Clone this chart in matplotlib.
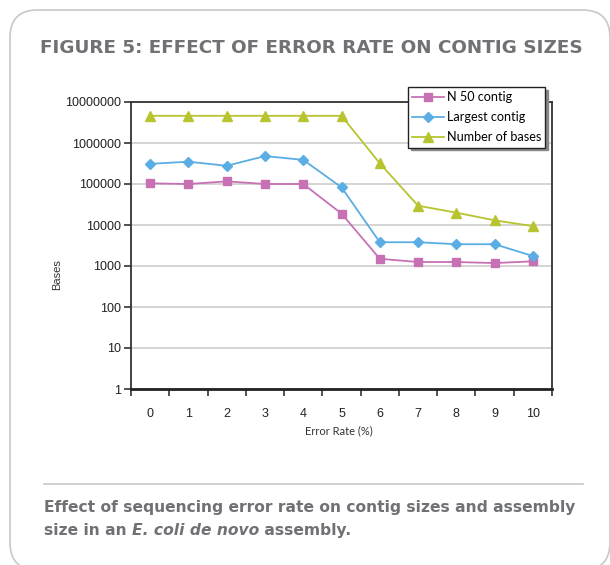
import matplotlib
matplotlib.use("Agg")
import matplotlib.pyplot as plt
from matplotlib.patches import FancyBboxPatch
from matplotlib.lines import Line2D

# data
error_rate = [0, 1, 2, 3, 4, 5, 6, 7, 8, 9, 10]
n50_contig = [104000, 100000, 116000, 100000, 100000, 19000, 1500, 1250, 1250, 1180, 1300]
largest_contig = [310000, 350000, 278000, 480000, 388000, 83000, 3800, 3800, 3400, 3400, 1750]
number_of_bases = [4600000, 4600000, 4600000, 4600000, 4600000, 4600000, 320000, 29500, 20000, 13000, 9400]
series_names = ["N 50 contig", "Largest contig", "Number of bases"]
y_ticks = [1, 10, 100, 1000, 10000, 100000, 1000000, 10000000]

TITLE = "FIGURE 5: EFFECT OF ERROR RATE ON CONTIG SIZES"
CAPTION_1 = "Effect of sequencing error rate on contig sizes and assembly"
CAPTION_2 = ["size in an ", "E. coli de novo", " assembly."]
PINK = "#c771b4"
BLUE = "#5aaee3"
GREEN = "#b8c42f"
TEXT_GRAY = "#707174"

W, H = 610, 565
fig = plt.figure(figsize=(W / 100, H / 100), dpi=100)


def px(x, y):
    """pixel coords (top-left origin) -> figure fraction"""
    return x / W, 1 - y / H


# rounded frame around the whole figure panel
frame = FancyBboxPatch(px(10, 570), (600 / W), (560 / H),
                       boxstyle="round,pad=0,rounding_size=0.045",
                       transform=fig.transFigure, fill=False,
                       edgecolor="#c8c8c8", linewidth=1.2, mutation_aspect=W / H)
fig.patches.append(frame)

fig.text(*px(40, 48), TITLE, family="DejaVu Sans", weight="bold", fontsize=13.2,
         color=TEXT_GRAY, va="center", ha="left")

left, top, right, bottom = 131, 102, 552, 389
ax = fig.add_axes([left / W, 1 - bottom / H, (right - left) / W, (bottom - top) / H])

ax.plot(error_rate, n50_contig, color=PINK, marker="s", markersize=6, linewidth=1.3, label=series_names[0])
ax.plot(error_rate, largest_contig, color=BLUE, marker="D", markersize=5, linewidth=1.3, label=series_names[1])
ax.plot(error_rate, number_of_bases, color=GREEN, marker="^", markersize=7.5, linewidth=1.3, label=series_names[2])

ax.set_yscale("log")
ax.set_ylim(1, 10000000)
ax.set_yticks(y_ticks)
ax.set_yticklabels([str(v) for v in y_ticks])
ax.yaxis.set_minor_locator(matplotlib.ticker.NullLocator())
ax.grid(axis="y", color="#c9c9c9", linewidth=1.1)
ax.set_axisbelow(True)

ax.set_xlim(-0.5, 10.5)
ax.set_xticks(error_rate)
ax.set_xticklabels([str(v) for v in error_rate])
ax.set_xticks([v - 0.5 for v in error_rate] + [10.5], minor=True)
ax.tick_params(axis="x", which="major", length=0, pad=14)
ax.tick_params(axis="x", which="minor", length=5, width=1.2, color="#333333")
ax.tick_params(axis="y", which="major", length=5, width=1.2, color="#333333", pad=2)
for lab in ax.get_xticklabels() + ax.get_yticklabels():
    lab.set_family("Liberation Sans")
    lab.set_fontsize(9)
    lab.set_color("#222222")

for side in ["left", "right", "top"]:
    ax.spines[side].set_color("#333333")
    ax.spines[side].set_linewidth(1.3)
ax.spines["bottom"].set_color("#222222")
ax.spines["bottom"].set_linewidth(2)

fig.text(*px(57, 275), "Bases", rotation=90, family="Liberation Sans", fontsize=8,
         color="#333333", ha="center", va="center")
fig.text(*px(339, 431), "Error Rate (%)", family="Lato", fontsize=8,
         color="#333333", ha="center", va="center")

leg = ax.legend(loc="upper left", bbox_to_anchor=((408 - left) / (right - left), 1 + (top - 87) / (bottom - top)),
                frameon=True, fancybox=False, shadow={"color": "#888888", "alpha": 1},
                prop={"family": "Lato", "size": 9.1}, handlelength=2.5, handletextpad=0.2,
                borderpad=0.35, labelspacing=0.62, borderaxespad=0)
leg.get_frame().set_edgecolor("#222222")
leg.get_frame().set_linewidth(1)
leg.set_zorder(5)

# separator line and caption
fig.add_artist(Line2D([44 / W, 583 / W], [1 - 484 / H, 1 - 484 / H], transform=fig.transFigure,
                      color="#c8c8c8", linewidth=1.2))
cap_kw = dict(family="DejaVu Sans", weight="bold", fontsize=11.2, color=TEXT_GRAY, va="baseline", ha="left")
fig.text(*px(44, 512), CAPTION_1, **cap_kw)

# second caption line: plain / italic / plain pieces laid out one after another
renderer = fig.canvas.get_renderer()
x_pos = 44
for i, piece in enumerate(CAPTION_2):
    t = fig.text(*px(x_pos, 535), piece, style="italic" if i == 1 else "normal", **cap_kw)
    x_pos = t.get_window_extent(renderer).x1

fig.savefig("out.png", dpi=100)
